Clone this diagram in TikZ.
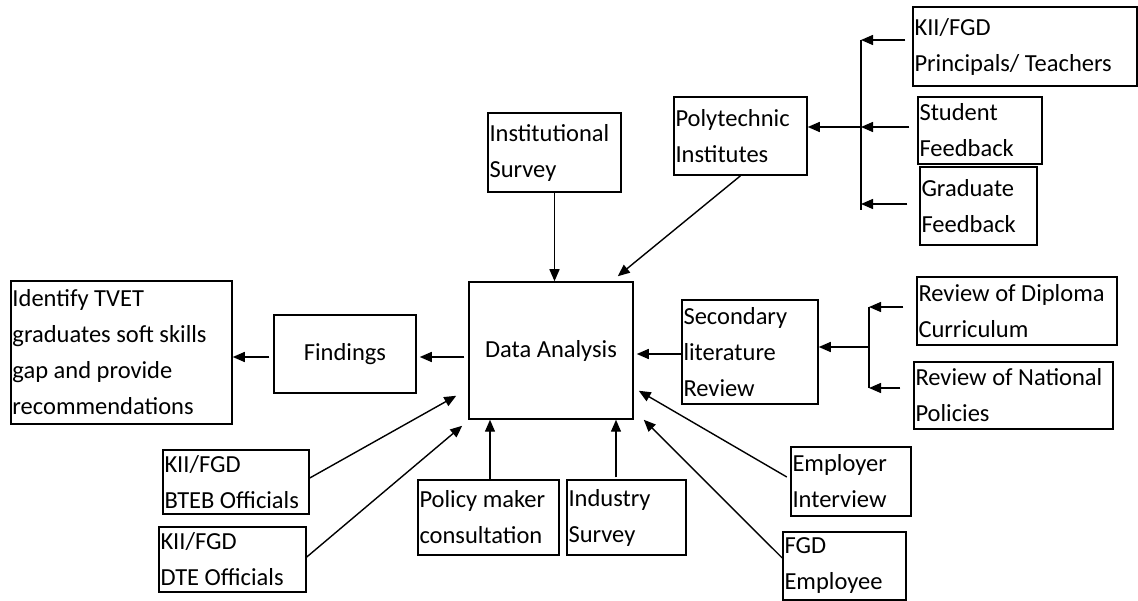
\documentclass[tikz,border=0pt]{standalone}
\usepackage{fontspec}
\setmainfont{Carlito}
\usetikzlibrary{arrows.meta,calc}
\hyphenpenalty=10000
\exhyphenpenalty=10000
\begin{document}
\begin{tikzpicture}[x=1pt,y=-1pt,
  bx/.style={draw, line width=1.5pt, align=flush left, inner xsep=1.5pt, inner ysep=0pt,
    font=\fontsize{24.5}{36}\selectfont},
  arr/.style={line width=1.4pt, -{Triangle[length=12pt,width=10pt]}},
  ln/.style={line width=1.4pt}]
\useasboundingbox (0,0) rectangle (1138,601);

% boxes
\node[bx, minimum width=221pt, minimum height=143pt, text width=218pt] (ident) at (121.5,352.5)
  {Identify TVET\\graduates soft skills\\gap and provide\\recommendations};
\node[bx, align=center, minimum width=142pt, minimum height=78pt] (find) at (345,354) {Findings};
\node[bx, align=center, minimum width=164pt, minimum height=137pt] (da) at (551,350.5) {Data Analysis};
\node[bx, minimum width=133pt, minimum height=79pt, text width=130pt] (inst) at (554.5,152.5) {Institutional\\Survey};
\node[bx, minimum width=133pt, minimum height=78pt, text width=130pt] (poly) at (740.5,136) {Polytechnic\\Institutes};
\node[bx, minimum width=224pt, minimum height=79pt, text width=221pt] (princ) at (1025,46.5) {KII/FGD\\Principals/ Teachers};
\node[bx, minimum width=124pt, minimum height=67pt, text width=121pt] (stud) at (980,130.5) {Student\\Feedback};
\node[bx, minimum width=117pt, minimum height=78pt, text width=114pt] (grad) at (978.5,206) {Graduate\\Feedback};
\node[bx, minimum width=136pt, minimum height=104pt, text width=133pt] (sec) at (750,352) {Secondary\\literature\\Review};
\node[bx, minimum width=200pt, minimum height=68pt, text width=197pt] (dipl) at (1017,311) {Review of Diploma\\Curriculum};
\node[bx, minimum width=199pt, minimum height=67pt, text width=196pt] (natl) at (1013.5,395.5) {Review of National\\Policies};
\node[bx, minimum width=146pt, minimum height=64pt, text width=143pt] (bteb) at (236,482) {KII/FGD\\BTEB Officials};
\node[bx, minimum width=147pt, minimum height=65pt, text width=144pt] (dte) at (232.5,559.5) {KII/FGD\\DTE Officials};
\node[bx, minimum width=141pt, minimum height=75pt, text width=138pt] (pol) at (488.5,517.5) {Policy maker\\consultation};
\node[bx, minimum width=119pt, minimum height=75pt, text width=116pt] (ind) at (626.5,517.5) {Industry\\Survey};
\node[bx, minimum width=120pt, minimum height=69pt, text width=117pt] (emp) at (851,481.5) {Employer\\Interview};
\node[bx, minimum width=123pt, minimum height=68pt, text width=120pt] (fgde) at (844.5,566) {FGD\\Employee};

% bracket coordinates
\coordinate (b1top) at (861,40);
\coordinate (b1bot) at (861,210);
\coordinate (b1mid) at (861,127);
\coordinate (b2top) at (869,307);
\coordinate (b2bot) at (869,388);
\coordinate (b2mid) at (869,347);

% main flow
\draw[arr, shorten <=4pt, shorten >=3pt] ([yshift=-6.5pt]da.west) -- ([yshift=-6.5pt]da.west -| find.east);
\draw[arr, shorten <=4pt] ([yshift=-3pt]find.west) -- ([yshift=-3pt]find.west -| ident.east);

% top inputs
\draw[arr] (inst.south) -- (inst.south |- da.north);
\draw[arr] (poly.south) -- ([xshift=-16pt,yshift=5pt]da.north east);

% polytechnic bracket
\draw[ln] (b1top) -- (b1bot);
\draw[arr, shorten <=7pt] ([yshift=6.5pt]princ.west) -- ([yshift=6.5pt]princ.west -| b1top);
\draw[arr, shorten <=8pt] ([yshift=3.5pt]stud.west) -- ([yshift=3.5pt]stud.west -| b1top);
\draw[arr, shorten <=12pt] ([yshift=2pt]grad.west) -- ([yshift=2pt]grad.west -| b1top);
\draw[arr] (b1mid) -- (b1mid -| poly.east);

% secondary literature bracket
\draw[ln] (b2top) -- (b2bot);
\draw[arr, shorten <=13pt] ([yshift=4pt]dipl.west) -- ([yshift=4pt]dipl.west -| b2top);
\draw[arr, shorten <=13pt] ([yshift=7.5pt]natl.west) -- ([yshift=7.5pt]natl.west -| b2top);
\draw[arr] (b2mid) -- (b2mid -| sec.east);
\draw[arr, shorten >=3pt] ([yshift=-2pt]sec.west) -- ([yshift=-2pt]sec.west -| da.east);

% bottom inputs
\draw[arr] ([yshift=4pt]bteb.east) -- ([xshift=-12pt,yshift=24pt]da.south west);
\draw[arr] ([yshift=2.5pt]dte.east) -- ([xshift=-6pt,yshift=-6pt]da.south west);
\draw[arr] ([xshift=1.5pt]pol.north) -- ([xshift=1.5pt]pol.north |- da.south);
\draw[arr, shorten <=2pt] ([xshift=-10.5pt]ind.north) -- ([xshift=-10.5pt]ind.north |- da.south);
\draw[arr, shorten <=4pt] ([yshift=2.5pt]emp.west) -- ([xshift=5pt,yshift=29pt]da.south east);
\draw[arr] ([yshift=8pt]fgde.west) -- ([xshift=10pt]da.south east);
\end{tikzpicture}
\end{document}
